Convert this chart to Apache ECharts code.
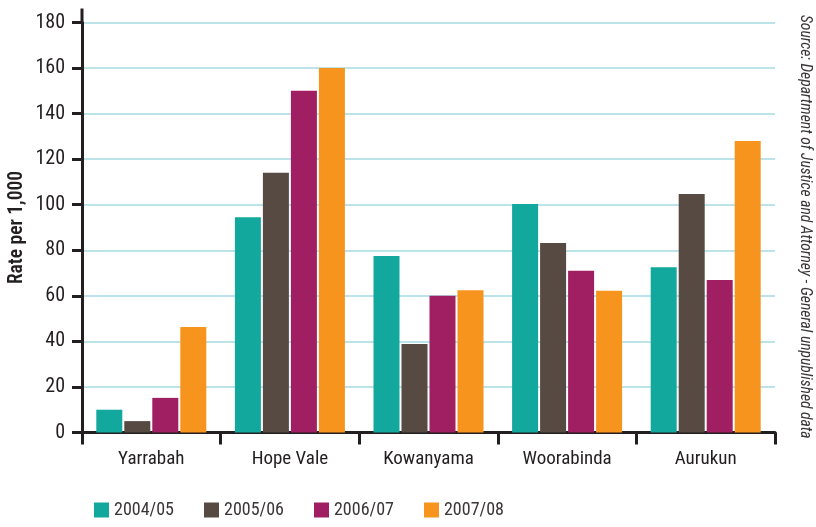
<!DOCTYPE html>
<html>
<head>
<meta charset="utf-8">
<script src="https://cdn.jsdelivr.net/npm/echarts@6/dist/echarts.min.js"></script>
<style>
  html, body { margin: 0; padding: 0; background: #ffffff; }
  #chart { width: 816px; height: 527px; }
</style>
</head>
<body>
<div id="chart"></div>
<script>
// Communities shown along the x axis
const communities = ['Yarrabah', 'Hope Vale', 'Kowanyama', 'Woorabinda', 'Aurukun'];

// Rate per 1,000 by financial year
const years = ['2004/05', '2005/06', '2006/07', '2007/08'];
const rate0405 = [10, 94.5, 77.5, 100.3, 72.6];
const rate0506 = [5, 114, 38.8, 83.2, 104.7];
const rate0607 = [15.2, 150, 60, 71, 67];
const rate0708 = [46.3, 160, 62.5, 62.2, 128];

const yTicks = [0, 20, 40, 60, 80, 100, 120, 140, 160, 180];

const palette = ['#12a89d', '#574a42', '#a01f62', '#f7941d'];
const seriesValues = [rate0405, rate0506, rate0607, rate0708];

const FONT = '"Roboto Condensed", "DejaVu Sans Condensed", sans-serif';
const INK = '#231f20';

const chart = echarts.init(document.getElementById('chart'), null, { renderer: 'canvas' });

const sourceNote = {
  type: 'text',
  right: 3,
  top: 15,
  rotation: -Math.PI / 2,
  style: {
    text: 'Source: Department of Justice and Attorney - General unpublished data',
    font: 'italic 15.6px ' + FONT,
    fill: '#3a3536'
  }
};

const option = {
  animation: false,
  backgroundColor: '#ffffff',
  color: palette,
  grid: {
    left: 82, right: 41, top: 22.5, bottom: 94.5,
    containLabel: false,
    outerBoundsMode: 'none'
  },
  legend: {
    top: 501,
    left: 94,
    padding: 0,
    itemWidth: 15,
    itemHeight: 15,
    itemGap: 30,
    icon: 'rect',
    textStyle: { fontFamily: FONT, fontSize: 18, color: '#3a3536', width: 59 },
    data: years
  },
  xAxis: {
    type: 'category',
    data: communities,
    axisLine: { lineStyle: { color: INK, width: 3 } },
    axisTick: { show: true, length: 12, lineStyle: { color: INK, width: 3 } },
    axisLabel: { fontFamily: FONT, fontSize: 19, color: INK, margin: 17 }
  },
  yAxis: {
    type: 'value',
    min: yTicks[0],
    max: yTicks[yTicks.length - 1],
    interval: 20,
    name: 'Rate per 1,000',
    nameLocation: 'middle',
    nameGap: 55,
    nameMoveOverlap: false,
    nameRotate: 90,
    nameTextStyle: { fontFamily: FONT, fontSize: 19.5, fontWeight: 600, color: INK },
    axisLine: { show: true, lineStyle: { color: INK, width: 3 } },
    axisTick: { show: true, length: 10, lineStyle: { color: INK, width: 3 } },
    axisLabel: { fontFamily: FONT, fontSize: 20, color: INK, margin: 17 },
    splitLine: { show: true, lineStyle: { color: '#bde3ea', width: 2 } }
  },
  series: years.map((y, i) => ({
    name: y,
    type: 'bar',
    data: seriesValues[i],
    barWidth: 26,
    barGap: '7.7%',
    barCategoryGap: '20.6%',
    itemStyle: { color: palette[i] },
    z: 3
  })),
  graphic: [sourceNote]
};

chart.setOption(option);

// Carry the y axis line a little above the top gridline
const topPx = chart.convertToPixel({ yAxisIndex: 0 }, yTicks[yTicks.length - 1]);
const leftPx = chart.getModel().getComponent('grid').coordinateSystem.getRect().x;
chart.setOption({
  graphic: [
    sourceNote,
    {
      type: 'line',
      shape: { x1: leftPx, y1: topPx + 1, x2: leftPx, y2: topPx - 14 },
      style: { stroke: INK, lineWidth: 3 },
      z: 10
    }
  ]
});
</script>
</body>
</html>
